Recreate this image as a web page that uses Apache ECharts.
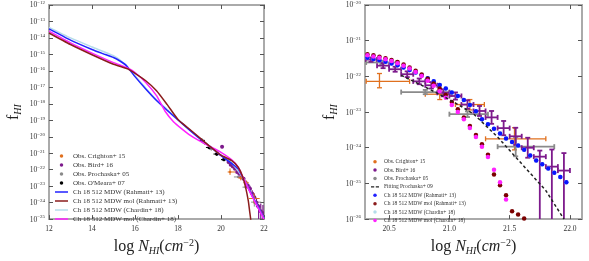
<!DOCTYPE html>
<html>
<head>
<meta charset="utf-8">
<script src="https://cdn.jsdelivr.net/npm/echarts@6/dist/echarts.min.js"></script>
<style>
html, body { margin: 0; padding: 0; background: #fff; }
#chart { width: 589px; height: 261px; }
</style>
</head>
<body>
<div id="chart"></div>
<script>
const SERIF = 'Liberation Serif';

// all f values are stored as log10 f; the y axes run in decades

// ---- left panel: simulation curves ----
const rahX = [12, 13, 14, 14.5, 15, 15.3, 15.6, 16, 16.5, 17, 17.5, 18, 18.5, 19, 19.5, 20, 20.5, 20.8, 21, 21.2, 21.4, 21.6, 21.8, 22];
const rahY = [-13.45, -14.13, -14.7, -14.95, -15.19, -15.4, -15.68, -16.35, -17.1, -17.8, -18.4, -18.98, -19.55, -20.1, -20.6, -21.15, -21.62, -21.95, -22.45, -22.95, -23.45, -23.95, -24.45, -24.95];
const rahMolX = [12, 13, 14, 15, 15.7, 16, 16.5, 17, 17.5, 18, 18.5, 19, 19.5, 20, 20.5, 20.8, 21, 21.15, 21.27, 21.33, 21.38, 21.42];
const rahMolY = [-13.7, -14.4, -15.02, -15.6, -15.9, -16.15, -16.6, -17.2, -18.05, -18.95, -19.5, -20.05, -20.6, -21.12, -21.45, -21.85, -22.4, -23.1, -23.9, -24.5, -25.0, -25.6];
const chaX = [12, 13, 14, 15, 15.5, 16, 16.5, 17, 17.5, 18, 19, 20, 20.5, 21, 21.5, 22];
const chaY = [-13.36, -14.0, -14.55, -15.08, -15.55, -16.3, -17.05, -17.75, -18.35, -18.95, -20.08, -21.12, -21.6, -22.45, -23.7, -24.95];
const chaMolX = [12, 13, 14, 15, 15.7, 16, 16.5, 17, 17.4, 17.8, 18.25, 18.5, 19, 19.5, 20, 20.5, 20.8, 21, 21.2, 21.4, 21.6, 21.8, 22];
const chaMolY = [-13.59, -14.3, -14.92, -15.5, -15.85, -16.1, -16.7, -17.5, -18.45, -19.1, -19.6, -19.85, -20.25, -20.6, -20.95, -21.4, -21.85, -22.4, -22.95, -23.5, -24.0, -24.5, -25.0];

// ---- observations (shared by both panels) ----
const crX = [20.42, 20.92, 21.17, 21.54];
const crY = [-22.14, -22.50, -22.79, -23.75];
const crXLo = [20.31, 20.80, 21.05, 21.30];
const crXHi = [20.67, 21.02, 21.29, 21.80];
const crErrLo = [0.18, 0.15, 0.15, 0.31];
const crErrHi = [0.22, 0.13, 0.14, 0.31];

const birdX = [20.05, 20.35, 20.45, 20.55, 20.65, 20.75, 20.85, 20.95, 21.05, 21.15, 21.25, 21.35, 21.45, 21.55, 21.65, 21.75, 21.85, 21.95];
const birdY = [-20.6, -21.53, -21.70, -21.80, -21.94, -22.14, -22.25, -22.46, -22.55, -22.79, -22.97, -23.15, -23.45, -23.68, -24.00, -24.25, -24.53, -24.64];
const birdErrLo = [0.1, 0.06, 0.07, 0.07, 0.08, 0.08, 0.09, 0.10, 0.10, 0.12, 0.14, 0.18, 0.20, 0.24, 0.28, 3, 3, 3];
const birdErrHi = [0.1, 0.06, 0.07, 0.07, 0.08, 0.08, 0.09, 0.10, 0.10, 0.12, 0.14, 0.18, 0.20, 0.24, 0.28, 0.17, 0.48, 0.49];
const birdHalfBin = 0.05;

const proX = [19.25, 19.55, 19.85, 20.1, 20.44, 20.80, 21.15, 21.55];
const proY = [-20.4, -20.75, -21.05, -21.4, -21.61, -22.44, -23.06, -23.97];
const proXLo = [19.15, 19.45, 19.75, 20.0, 20.31, 20.60, 21.00, 21.40];
const proXHi = [19.35, 19.65, 19.95, 20.2, 20.56, 21.00, 21.32, 21.87];
const proErr = [0.08, 0.08, 0.08, 0.08, 0.05, 0.06, 0.08, 0.27];

const omX = [19.1, 19.45, 19.8, 20.14];
const omY = [-20.22, -20.65, -21.05, -21.38];
const omXLo = [18.95, 19.3, 19.65, 20.0];
const omXHi = [19.25, 19.6, 19.95, 20.28];
const omErr = [0.1, 0.1, 0.1, 0.1];

// ---- right panel: fit + simulation points ----
const fitX = [20.6, 20.8, 21.0, 21.2, 21.4, 21.6, 21.8, 21.95];
const fitY = [-21.97, -22.3, -22.65, -23.05, -23.7, -24.45, -25.2, -26.0];

const simX = [20.32, 20.37, 20.42, 20.47, 20.52, 20.57, 20.62, 20.67, 20.72, 20.77, 20.82, 20.87, 20.92, 20.97, 21.02, 21.07, 21.12,
              21.17, 21.22, 21.27, 21.32, 21.37, 21.42, 21.47, 21.52, 21.57, 21.62, 21.67, 21.72, 21.77, 21.82, 21.87, 21.92, 21.97];
const simRahY = [-21.48, -21.51, -21.55, -21.59, -21.64, -21.69, -21.75, -21.82, -21.89, -21.97, -22.05, -22.14, -22.24, -22.34, -22.45, -22.55, -22.66,
                 -22.80, -22.98, -23.20, -23.34, -23.47, -23.60, -23.74, -23.84, -23.94, -24.06, -24.22, -24.36, -24.46, -24.58, -24.70, -24.82, -24.97];
const simRahMolY = [-21.38, -21.41, -21.45, -21.49, -21.54, -21.60, -21.67, -21.75, -21.84, -21.95, -22.07, -22.20, -22.34, -22.52, -22.72, -22.92, -23.15,
                    -23.39, -23.64, -23.90, -24.20, -24.75, -25.05, -25.33, -25.78, -25.87, -25.98, null, null, null, null, null, null, null];
const simChaMolY = [-21.41, -21.44, -21.48, -21.52, -21.57, -21.63, -21.70, -21.78, -21.88, -21.99, -22.12, -22.26, -22.42, -22.60, -22.80, -23.00, -23.20,
                    -23.45, -23.70, -23.97, -24.26, -24.62, -24.97, -25.45, null, null, null, null, null, null, null, null, null, null];
// light blue points sit under the blue ones
const simChaY = simRahY;

const C = {
  crighton: '#e0701e', bird: '#7d1a8c', pro: '#8a8a8a', om: '#000000',
  rah: '#2222ff', rahMol: '#8b1c1c', cha: '#b5dcea', chaMol: '#ff22ff'
};

const pairs = (xs, ys) => xs.map((x, i) => [x, ys[i]]).filter(p => p[1] != null);

function errData(xs, ys, xlo, xhi, elo, ehi) {
  return xs.map((x, i) => [x, ys[i], xlo[i], xhi[i], ys[i] - elo[i], ys[i] + ehi[i]]);
}
const crData = errData(crX, crY, crXLo, crXHi, crErrLo, crErrHi);
const birdData = errData(birdX, birdY, birdX.map(x => x - birdHalfBin), birdX.map(x => x + birdHalfBin), birdErrLo, birdErrHi);
const proData = errData(proX, proY, proXLo, proXHi, proErr, proErr);
const omData = errData(omX, omY, omXLo, omXHi, omErr, omErr);

function errRender(color, lw, cap, r) {
  return function (params, api) {
    const c = api.coord([api.value(0), api.value(1)]);
    const l = api.coord([api.value(2), api.value(1)]);
    const rt = api.coord([api.value(3), api.value(1)]);
    const lo = api.coord([api.value(0), api.value(4)]);
    const hi = api.coord([api.value(0), api.value(5)]);
    const st = { stroke: color, lineWidth: lw };
    const kids = [
      { type: 'line', shape: { x1: l[0], y1: c[1], x2: rt[0], y2: c[1] }, style: st },
      { type: 'line', shape: { x1: c[0], y1: lo[1], x2: c[0], y2: hi[1] }, style: st }
    ];
    if (cap) {
      kids.push({ type: 'line', shape: { x1: l[0], y1: c[1] - cap, x2: l[0], y2: c[1] + cap }, style: st });
      kids.push({ type: 'line', shape: { x1: rt[0], y1: c[1] - cap, x2: rt[0], y2: c[1] + cap }, style: st });
      kids.push({ type: 'line', shape: { x1: c[0] - cap, y1: lo[1], x2: c[0] + cap, y2: lo[1] }, style: st });
      kids.push({ type: 'line', shape: { x1: c[0] - cap, y1: hi[1], x2: c[0] + cap, y2: hi[1] }, style: st });
    }
    if (r) kids.push({ type: 'circle', shape: { cx: c[0], cy: c[1], r: r }, style: { fill: color } });
    const cs = params.coordSys;
    return {
      type: 'group', children: kids,
      clipPath: { type: 'rect', shape: { x: cs.x, y: cs.y, width: cs.width, height: cs.height } }
    };
  };
}

function errSeries(name, data, color, lw, cap, r, xi, yi) {
  return {
    name: name, type: 'custom', xAxisIndex: xi, yAxisIndex: yi,
    itemStyle: { color: color }, data: data,
    renderItem: errRender(color, lw, cap, r)
  };
}
function lineSeries(name, xs, ys, color) {
  return {
    name: name, type: 'line', xAxisIndex: 0, yAxisIndex: 0, symbol: 'none', smooth: 0.2,
    itemStyle: { color: color }, lineStyle: { color: color, width: 1.5 }, data: pairs(xs, ys)
  };
}
function dotSeries(name, ys, color) {
  return {
    name: name, type: 'scatter', xAxisIndex: 2, yAxisIndex: 2, symbolSize: 4.5,
    itemStyle: { color: color, opacity: 1 }, data: pairs(simX, ys)
  };
}

const N = {
  cr: 'Obs. Crighton+ 15', bird: 'Obs. Bird+ 16', pro: 'Obs. Prochaska+ 05', om: "Obs. O'Meara+ 07",
  fit: 'Fitting Prochaska+ 09',
  rah: 'Ch 18 512 MDW (Rahmati+ 13)', rahMol: 'Ch 18 512 MDW mol (Rahmati+ 13)',
  cha: 'Ch 18 512 MDW (Chardin+ 18)', chaMol: 'Ch 18 512 MDW mol (Chardin+ 18)'
};

const decade = v => {
  const e = Math.round(v);
  return '{b|10}{s|' + (e < 0 ? '\u2212' + (-e) : e) + '}';
};
const tickRich = {
  b: { fontFamily: SERIF, fontSize: 7.5, color: '#333', verticalAlign: 'bottom', lineHeight: 9 },
  s: { fontFamily: SERIF, fontSize: 5, color: '#333', verticalAlign: 'top', lineHeight: 6, padding: [0, 0, 4, 0] }
};
const nameRich = {
  r: { fontFamily: SERIF, fontSize: 16, color: '#222', lineHeight: 18 },
  i: { fontFamily: SERIF, fontSize: 16, fontStyle: 'italic', color: '#222', lineHeight: 18 },
  sub: { fontFamily: SERIF, fontSize: 10, fontStyle: 'italic', color: '#222', verticalAlign: 'bottom', padding: [8, 0, 0, 0] },
  sup: { fontFamily: SERIF, fontSize: 10, color: '#222', verticalAlign: 'top', padding: [0, 0, 8, 0] }
};
const xName = '{r|log }{i|N}{sub|HI}{r|(}{i|cm}{sup|\u22122}{r|)}';
const yName = '{r|f}{sub|HI}';

const frame = { lineStyle: { color: '#aaaaaa', width: 2 } };
const tick = { inside: true, length: 4, lineStyle: { color: '#555', width: 1 } };

function xAx(grid, min, max, pos, extra) {
  return Object.assign({
    gridIndex: grid, type: 'value', min: min, max: max, position: pos,
    axisLine: frame, axisTick: tick, splitLine: { show: false },
    axisLabel: { show: pos === 'bottom', fontFamily: SERIF, fontSize: 7.5, color: '#333', margin: 6 }
  }, extra || {});
}
function yAx(grid, min, max, pos) {
  return {
    gridIndex: grid, type: 'value', min: min, max: max, interval: 1, position: pos,
    axisLine: frame, axisTick: tick, splitLine: { show: false },
    axisLabel: { show: pos === 'left', formatter: decade, rich: tickRich, margin: 4 },
    name: pos === 'left' ? yName : '', nameLocation: 'middle', nameGap: 26, nameRotate: 90,
    nameTextStyle: { rich: nameRich }
  };
}

const rightTicks = [20.5, 21.0, 21.5, 22.0];

const legendBase = {
  orient: 'vertical', selectedMode: false, itemGap: 0, padding: 0
};
const lineIcon = 'path://M0,0H26V3H0Z';
const dashIcon = 'path://M0,0H8V3H0Z M12,0H20V3H12Z';

const option = {
  animation: false,
  backgroundColor: '#fff',
  grid: [
    { left: 49, top: 5, width: 215, height: 224, show: true, borderColor: '#aaaaaa', borderWidth: 2 },
    { left: 365, top: 5, width: 217, height: 224, show: true, borderColor: '#aaaaaa', borderWidth: 2 }
  ],
  xAxis: [
    xAx(0, 12, 22, 'bottom', { interval: 2, name: xName, nameLocation: 'middle', nameGap: 9, nameTextStyle: { rich: nameRich } }),
    xAx(0, 12, 22, 'top', { interval: 2 }),
    xAx(1, 20.3, 22.1, 'bottom', {}),
    xAx(1, 20.3, 22.1, 'top', {})
  ],
  yAxis: [
    yAx(0, -25, -12, 'left'),
    yAx(0, -25, -12, 'right'),
    yAx(1, -26, -20, 'left'),
    yAx(1, -26, -20, 'right')
  ],
  legend: [
    Object.assign({}, legendBase, {
      left: 55, top: 151.5, itemWidth: 13, itemHeight: 3.5,
      textStyle: { fontFamily: SERIF, fontSize: 7, color: '#333', lineHeight: 9 },
      data: [
        { name: N.cr, icon: 'circle' }, { name: N.bird, icon: 'circle' },
        { name: N.pro, icon: 'circle' }, { name: N.om, icon: 'circle' },
        { name: N.rah, icon: lineIcon }, { name: N.rahMol, icon: lineIcon },
        { name: N.cha, icon: lineIcon }, { name: N.chaMol, icon: lineIcon }
      ]
    }),
    Object.assign({}, legendBase, {
      left: 371, top: 157.5, itemWidth: 8, itemHeight: 3.5,
      textStyle: { fontFamily: SERIF, fontSize: 5.5, color: '#333', lineHeight: 8.4 },
      data: [
        { name: N.cr, icon: 'circle' }, { name: N.bird, icon: 'circle' },
        { name: N.pro, icon: 'circle' }, { name: N.fit, icon: dashIcon },
        { name: N.rah, icon: 'circle' }, { name: N.rahMol, icon: 'circle' },
        { name: N.cha, icon: 'circle' }, { name: N.chaMol, icon: 'circle' }
      ]
    })
  ],
  series: [
    // left panel
    lineSeries(N.cha, chaX, chaY, C.cha),
    lineSeries(N.rah, rahX, rahY, C.rah),
    lineSeries(N.chaMol, chaMolX, chaMolY, C.chaMol),
    lineSeries(N.rahMol, rahMolX, rahMolY, C.rahMol),
    errSeries(N.pro, proData, C.pro, 1, 0, 1.3, 0, 0),
    errSeries(N.om, omData, C.om, 1, 0, 1.8, 0, 0),
    errSeries(N.bird, birdData, C.bird, 1.2, 0, 2, 0, 0),
    errSeries(N.cr, crData, C.crighton, 1, 0, 1.3, 0, 0),
    // right panel
    errSeries(N.cr, crData, C.crighton, 1.3, 2.5, 0, 2, 2),
    errSeries(N.pro, proData, C.pro, 1.8, 2.5, 0, 2, 2),
    errSeries(N.bird, birdData, C.bird, 1.8, 2.5, 0, 2, 2),
    {
      name: N.fit, type: 'line', xAxisIndex: 2, yAxisIndex: 2, symbol: 'none',
      itemStyle: { color: '#222' }, lineStyle: { color: '#222', width: 1.5, type: [3, 2.5] },
      data: pairs(fitX, fitY)
    },
    dotSeries(N.cha, simChaY, C.cha),
    dotSeries(N.rah, simRahY, '#0a14ff'),
    dotSeries(N.rahMol, simRahMolY, '#7a0000'),
    dotSeries(N.chaMol, simChaMolY, C.chaMol)
  ]
};

// right-panel x ticks at the round values only
option.xAxis[2].axisLabel.customValues = rightTicks;
option.xAxis[2].axisLabel.formatter = v => v.toFixed(1);
option.xAxis[2].axisTick = Object.assign({}, tick, { customValues: rightTicks });
option.xAxis[2].name = xName;
option.xAxis[2].nameLocation = 'middle';
option.xAxis[2].nameGap = 9;
option.xAxis[2].nameTextStyle = { rich: nameRich };
option.xAxis[3].axisTick = Object.assign({}, tick, { customValues: rightTicks });

const chart = echarts.init(document.getElementById('chart'));
chart.setOption(option);
</script>
</body>
</html>
